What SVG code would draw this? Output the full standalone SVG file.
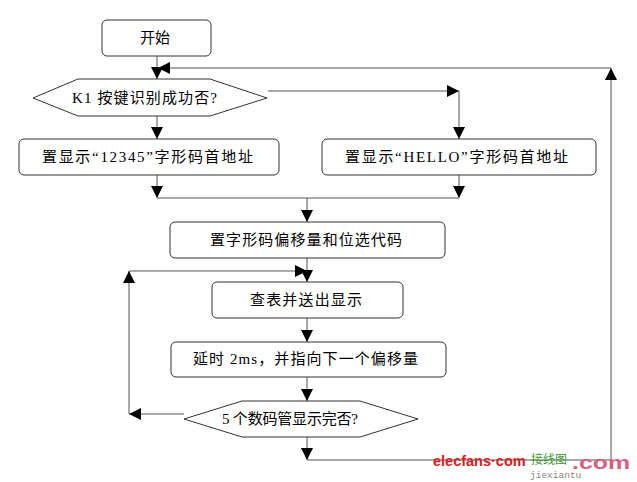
<svg xmlns="http://www.w3.org/2000/svg" width="637" height="482" viewBox="0 0 637 482">
  <defs>
    <marker id="arr" markerUnits="userSpaceOnUse" markerWidth="12" markerHeight="12" refX="12" refY="6" orient="auto">
      <path d="M0,0 L12,6 L0,12 z" fill="#000"/>
    </marker>
    <style>
      .box { fill: #fff; stroke: #333; stroke-width: 1; }
      .dec { fill: #fff; stroke: #333; stroke-width: 1; }
      .ln { fill: none; stroke: #555; stroke-width: 1; }
      .ar { fill: none; stroke: #555; stroke-width: 1; marker-end: url(#arr); }
      .t { font-family: "Liberation Serif", "Noto Sans CJK SC", serif; font-size: 15px; fill: #000; text-anchor: middle; }
    </style>
  </defs>
  <rect width="637" height="482" fill="#fff"/>

  <g id="connectors">
    <path class="ar" d="M157,56 V79"/>
    <path class="ar" d="M157,116 V139"/>
    <path class="ar" d="M268,91 H459"/>
    <path class="ar" d="M459,91 V139"/>
    <path class="ar" d="M157,175 V198"/>
    <path class="ar" d="M459,175 V198"/>
    <path class="ln" d="M157,198 H459"/>
    <path class="ar" d="M307,198 V222"/>
    <path class="ar" d="M307,258 V282"/>
    <path class="ar" d="M307,318 V342"/>
    <path class="ar" d="M307,377 V401"/>
    <path class="ar" d="M184,414 H129"/>
    <path class="ar" d="M129,414 V271"/>
    <path class="ar" d="M129,271 H307"/>
    <path class="ar" d="M307,437 V460"/>
    <path class="ar" d="M307,460 H611 V68"/>
    <path class="ar" d="M611,68 H158"/>
  </g>

  <g id="start">
    <rect class="box" x="102" y="20" width="109" height="36" rx="5"/>
    <text class="t" x="155" y="43">开始</text>
  </g>
  <g id="dec1">
    <polygon class="dec" points="33,98 78,79 210,79 267,98 210,116 78,116"/>
    <text class="t" x="144.5" y="103" textLength="145" lengthAdjust="spacing">K1 按键识别成功否?</text>
  </g>
  <g id="box12345">
    <rect class="box" x="19" y="139" width="260" height="36" rx="5"/>
    <text class="t" x="147.5" y="162" textLength="211" lengthAdjust="spacing">置显示“12345”字形码首地址</text>
  </g>
  <g id="boxHELLO">
    <rect class="box" x="322" y="139" width="274" height="36" rx="5"/>
    <text class="t" x="456.5" y="162" textLength="223" lengthAdjust="spacing">置显示“HELLO”字形码首地址</text>
  </g>
  <g id="offset">
    <rect class="box" x="170" y="222" width="275" height="36" rx="5"/>
    <text class="t" x="306" y="245" textLength="192" lengthAdjust="spacing">置字形码偏移量和位选代码</text>
  </g>
  <g id="lookup">
    <rect class="box" x="212" y="282" width="191" height="36" rx="5"/>
    <text class="t" x="306" y="305" textLength="112" lengthAdjust="spacing">查表并送出显示</text>
  </g>
  <g id="delay">
    <rect class="box" x="171" y="342" width="275" height="35" rx="5"/>
    <text class="t" x="305.5" y="364" textLength="225" lengthAdjust="spacing">延时 2ms，并指向下一个偏移量</text>
  </g>
  <g id="dec2">
    <polygon class="dec" points="184,419 242,401 360,401 418,419 360,437 242,437"/>
    <text class="t" x="290" y="424" textLength="136" lengthAdjust="spacing">5 个数码管显示完否?</text>
  </g>

  <g id="watermark">
    <text x="433" y="466" font-family="Liberation Sans, sans-serif" font-size="14.5" font-weight="bold" fill="#d42020">elecfans·com</text>
    <text x="531" y="464" font-family="Noto Sans CJK SC, sans-serif" font-size="12" fill="#3a9a30">接线图</text>
    <text x="530" y="478" font-family="Liberation Mono, monospace" font-size="9.5" fill="#888">jiexiantu</text>
    <text x="572" y="469" font-family="Liberation Sans, sans-serif" font-size="18" font-weight="bold" fill="#d86080" textLength="58" lengthAdjust="spacingAndGlyphs">.com</text>
  </g>
</svg>
